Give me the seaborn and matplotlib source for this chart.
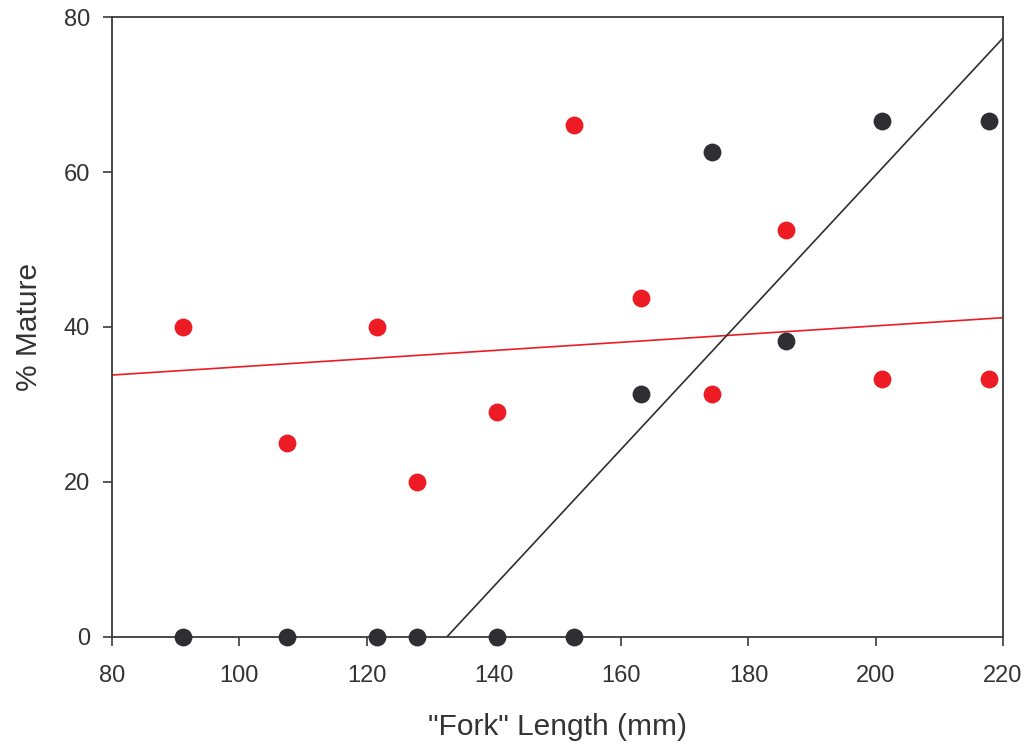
import matplotlib
matplotlib.use("Agg")
import matplotlib.pyplot as plt
import seaborn as sns
import pandas as pd

# ---------------------------
# Data
# ---------------------------
fork_length = [91.2, 107.5, 121.6, 127.9, 140.5, 152.6, 163.1, 174.3, 185.9, 201.0, 217.8]
pct_red = [40.0, 25.0, 40.0, 20.0, 29.0, 66.1, 43.7, 31.4, 52.5, 33.3, 33.3]
pct_black = [0.0, 0.0, 0.0, 0.0, 0.0, 0.0, 31.3, 62.6, 38.2, 66.6, 66.6]

# fitted lines (end points)
red_fit_x = [80.0, 220.0]
red_fit_y = [33.8, 41.2]
black_fit_x = [132.6, 220.0]
black_fit_y = [0.0, 77.3]

x_ticks = [80, 100, 120, 140, 160, 180, 200, 220]
y_ticks = [0, 20, 40, 60, 80]

RED = "#ED1C24"
DARK = "#2E2E33"
AXIS = "#3a3a3a"

sns.set_theme(style="ticks")
plt.rcParams["font.family"] = ["Liberation Sans", "DejaVu Sans"]

df = pd.DataFrame({"length": fork_length, "red": pct_red, "black": pct_black})

fig = plt.figure(figsize=(10.26, 7.47), dpi=100)
ax = fig.add_axes([0.1092, 0.1473, 0.8684, 0.8299])

sns.lineplot(x=red_fit_x, y=red_fit_y, color=RED, linewidth=1.2, ax=ax, zorder=2)
sns.lineplot(x=black_fit_x, y=black_fit_y, color=DARK, linewidth=1.2, ax=ax, zorder=2)

sns.scatterplot(data=df, x="length", y="red", color=RED, s=165, linewidth=0,
                ax=ax, zorder=3, clip_on=False)
sns.scatterplot(data=df, x="length", y="black", color=DARK, s=165, linewidth=0,
                ax=ax, zorder=3, clip_on=False)

ax.set_xlim(80, 220)
ax.set_ylim(0, 80)
ax.set_xticks(x_ticks)
ax.set_yticks(y_ticks)

for side in ["left", "right", "top", "bottom"]:
    ax.spines[side].set_color(AXIS)
    ax.spines[side].set_linewidth(1.3)

ax.tick_params(axis="both", direction="out", length=6.5, width=1.2, color=AXIS,
               labelsize=17, labelcolor="#333333")
ax.tick_params(axis="x", pad=13.8)
ax.tick_params(axis="y", pad=9.3)

ax.set_xlabel('"Fork" Length (mm)', fontsize=21.5, color="#333333", labelpad=18.5)
ax.set_ylabel("% Mature", fontsize=21.5, color="#333333", labelpad=15)

fig.savefig("out.png", dpi=100)
